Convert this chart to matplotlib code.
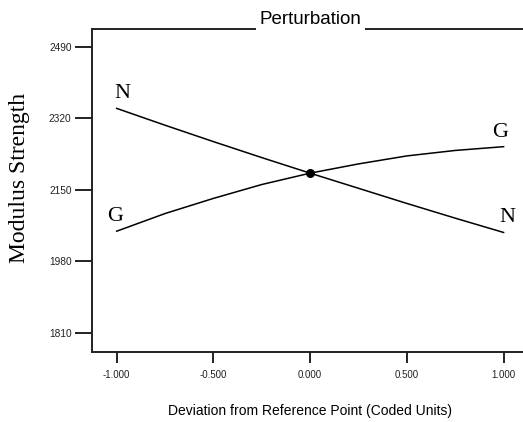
import numpy as np
import matplotlib
matplotlib.use('Agg')
import matplotlib.pyplot as plt

# coded deviation and response for each factor
dev = [-1.0, -0.75, -0.5, -0.25, 0.0, 0.25, 0.5, 0.75, 1.0]
N_vals = [2344, 2304, 2265, 2227, 2190, 2154, 2118, 2083, 2049]
G_vals = [2052, 2094, 2130, 2163, 2190, 2212, 2231, 2244, 2253]
ref_point = (0.0, 2190)

yticks = [1810, 1980, 2150, 2320, 2490]
xticks = [-1.0, -0.5, 0.0, 0.5, 1.0]

fig = plt.figure(figsize=(5.23, 4.22), dpi=100)
ax = fig.add_axes([0.1765, 0.1666, 0.833, 0.7647])

ax.plot(dev, N_vals, color='black', lw=1.1)
ax.plot(dev, G_vals, color='black', lw=1.1)
ax.plot(*ref_point, 'o', color='black', ms=5.5)

serif = 'Liberation Serif'
ax.text(dev[0] + 0.03, N_vals[0] + 12, 'N', family=serif, fontsize=16, ha='center', va='bottom')
ax.text(dev[0] - 0.01, G_vals[0] + 12, 'G', family=serif, fontsize=16, ha='center', va='bottom')
ax.text(dev[-1] - 0.02, G_vals[-1] + 12, 'G', family=serif, fontsize=16, ha='center', va='bottom')
ax.text(dev[-1] + 0.02, N_vals[-1] + 12, 'N', family=serif, fontsize=16, ha='center', va='bottom')

ax.set_xlim(-1.126, 1.126)
ax.set_ylim(1765.5, 2532.8)
ax.set_xticks(xticks)
ax.set_xticklabels(['%.3f' % t for t in xticks])
ax.set_yticks(yticks)

ax.spines['right'].set_visible(False)
for s in ['left', 'bottom', 'top']:
    ax.spines[s].set_linewidth(1.4)
    ax.spines[s].set_color('#222222')
ax.tick_params(axis='y', direction='out', length=12, width=1.4, pad=3,
               labelsize=7.3, colors='#222222')
ax.tick_params(axis='x', direction='out', length=8, width=1.4, pad=5,
               labelsize=7, colors='#222222')
for lab in ax.get_xticklabels() + ax.get_yticklabels():
    lab.set_family('Liberation Sans')

fig.text(20 / 523, 1 - 178 / 422, 'Modulus Strength', family=serif, fontsize=17,
         rotation=90, ha='center', va='center')
fig.text(310 / 523, 1 - 411 / 422, 'Deviation from Reference Point (Coded Units)',
         family='Liberation Sans', fontsize=10, ha='center', va='center')
fig.text(310 / 523, 1 - 20 / 422, 'Perturbation', family='Liberation Sans',
         fontsize=13.5, ha='center', va='center',
         bbox=dict(facecolor='white', edgecolor='none', pad=2.5))

fig.savefig('out.png', dpi=100)
